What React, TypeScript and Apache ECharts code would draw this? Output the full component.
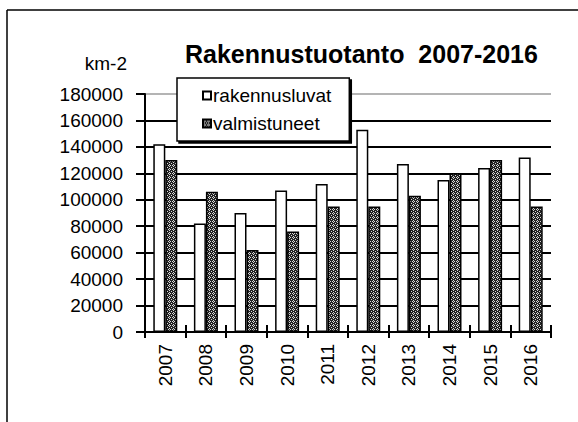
import React, { useEffect, useRef } from "react";
import * as echarts from "echarts";

const years = ["2007", "2008", "2009", "2010", "2011", "2012", "2013", "2014", "2015", "2016"];
const rakennusluvat = [142000, 82000, 90000, 107000, 112000, 153000, 127000, 115000, 124000, 132000];
const valmistuneet = [130000, 106000, 62000, 76000, 95000, 95000, 103000, 120000, 130000, 95000];
const yTicks = [0, 20000, 40000, 60000, 80000, 100000, 120000, 140000, 160000, 180000];

const FONT = "'Liberation Sans', Arial, sans-serif";

function makePattern(): any {
  const c = document.createElement("canvas");
  c.width = 4;
  c.height = 4;
  const ctx = c.getContext("2d");
  if (!ctx) return "#666666";
  ctx.fillStyle = "#222222";
  ctx.fillRect(0, 0, 4, 4);
  ctx.fillStyle = "#d8d8d8";
  [[1, 0], [0, 1], [2, 1], [1, 2], [3, 3]].forEach(([x, y]) => ctx.fillRect(x, y, 1, 1));
  return { image: c, repeat: "repeat" };
}

export default function App() {
  const ref = useRef<HTMLDivElement>(null);
  useEffect(() => {
    document.body.style.margin = "0";
    document.body.style.overflow = "hidden";
    if (!ref.current) return;
    const chart = echarts.init(ref.current, undefined, { renderer: "svg" });
    const gridColors = yTicks.map((v, i) => (i === yTicks.length - 1 ? "#b4b4b4" : "#000000"));
    chart.setOption({
      animation: false,
      backgroundColor: "#ffffff",
      title: {
        text: "Rakennustuotanto  2007-2016",
        left: 180,
        top: 36,
        textStyle: { fontFamily: FONT, fontSize: 25, fontWeight: "bold", color: "#000" },
      },
      graphic: [
        {
          type: "rect",
          shape: { x: 560, y: 0, width: 30, height: 422 },
          style: { fill: "#ffffff" },
          silent: true,
          z: 90,
        },
        {
          type: "line",
          shape: { x1: 7, y1: 10, x2: 578, y2: 10 },
          style: { stroke: "#000", lineWidth: 1.5 },
          silent: true,
          z: 100,
        },
        {
          type: "line",
          shape: { x1: 7, y1: 10, x2: 7, y2: 422 },
          style: { stroke: "#000", lineWidth: 1.5 },
          silent: true,
          z: 100,
        },
      ],
      legend: {
        orient: "vertical",
        left: 177,
        top: 78,
        padding: [8, 18, 8, 25],
        itemGap: 9,
        itemWidth: 8,
        itemHeight: 8,
        icon: "rect",
        backgroundColor: "#ffffff",
        borderColor: "#000",
        borderWidth: 1.5,
        borderRadius: 0,
        shadowColor: "#000",
        shadowOffsetX: 2,
        shadowOffsetY: 2,
        shadowBlur: 0,
        textStyle: { fontFamily: FONT, fontSize: 19, color: "#000", padding: [0, 0, 0, -3] },
        data: ["rakennusluvat", "valmistuneet"],
      },
      grid: { left: 145, right: 27, top: 94, bottom: 90, containLabel: false },
      xAxis: [
        {
          type: "category",
          data: years,
          position: "bottom",
          axisLine: { show: true, lineStyle: { color: "#000", width: 2 } },
          axisTick: { show: true, length: 6, lineStyle: { color: "#000", width: 2 } },
          axisLabel: { rotate: 90, margin: 12, fontFamily: FONT, fontSize: 19, color: "#000" },
          splitLine: { show: false },
        },
        {
          type: "category",
          data: years,
          position: "bottom",
          axisLine: { show: false },
          axisTick: { show: true, inside: true, length: 7, lineStyle: { color: "#000", width: 2 } },
          axisLabel: { show: false },
          splitLine: { show: false },
        },
      ],
      yAxis: {
        type: "value",
        min: 0,
        max: 180000,
        interval: 20000,
        name: "km-2",
        nameLocation: "end",
        nameGap: 31,
        nameTextStyle: {
          fontFamily: FONT,
          fontSize: 19,
          color: "#000",
          align: "right",
          verticalAlign: "middle",
          padding: [0, 18, 0, 0],
        },
        axisLine: { show: true, lineStyle: { color: "#000", width: 2 } },
        axisTick: { show: true, length: 9, lineStyle: { color: "#000", width: 2 } },
        axisLabel: {
          margin: 22,
          fontFamily: FONT,
          fontSize: 19,
          color: "#000",
          formatter: (v: number) => String(v),
        },
        splitLine: { show: true, lineStyle: { color: gridColors, width: 2 } },
      },
      series: [
        {
          name: "rakennusluvat",
          type: "bar",
          data: rakennusluvat,
          barWidth: 12,
          barGap: "0%",
          itemStyle: { color: "#ffffff", borderColor: "#000", borderWidth: 1.5 },
        },
        {
          name: "valmistuneet",
          type: "bar",
          data: valmistuneet,
          barWidth: 12,
          barGap: "0%",
          itemStyle: { color: makePattern(), borderColor: "#000", borderWidth: 1.5 },
        },
      ],
    });
    return () => chart.dispose();
  }, []);
  return (
    <div
      ref={ref}
      style={{ position: "fixed", left: 0, top: 0, width: 578, height: 422 }}
    />
  );
}
